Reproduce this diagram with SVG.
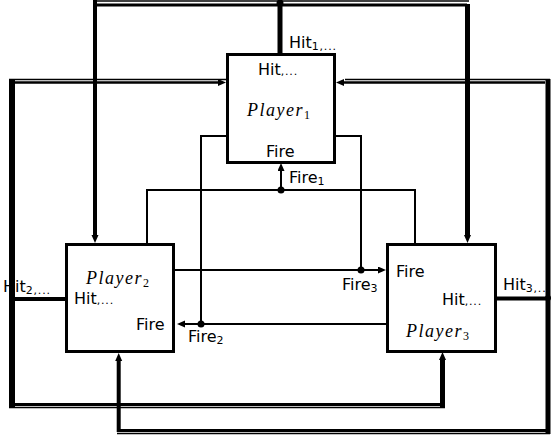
<svg xmlns="http://www.w3.org/2000/svg" width="551" height="437" viewBox="0 0 551 437">
<style>
.box{fill:#fff;stroke:#000;stroke-width:3}
.t{font-family:"DejaVu Sans",sans-serif;font-size:16px;fill:#000}
.s{font-size:11px;letter-spacing:0.8px}
.p{font-family:"Liberation Serif",serif;font-style:italic;font-size:18px;letter-spacing:1.5px;fill:#000}
.ps{font-style:normal;font-size:12px;letter-spacing:0}
.f{fill:none;stroke:#000;stroke-width:2}
.k{fill:none;stroke:#000;stroke-width:3}
.n{fill:none;stroke:#000;stroke-width:1.3}
.v{fill:none;stroke:#000;stroke-width:5}
.d{fill:#000}
</style>
<defs>
<marker id="a" markerUnits="userSpaceOnUse" markerWidth="9" markerHeight="8" refX="0" refY="3.5" orient="auto">
<path d="M0,0 L8,3.5 L0,7 z" fill="#000"/>
</marker>
</defs>
<rect width="551" height="437" fill="#fff"/>
<g id="connectors">
<path class="v" d="M280,54 V3"/>
<path class="n" d="M93,1 H469"/>
<path class="k" d="M95,5 H467"/>
<path class="v" style="stroke-width:4" d="M95,0 V235" marker-end="url(#a)"/>
<path class="v" d="M467.5,4 V235" marker-end="url(#a)"/>
<circle class="d" cx="280" cy="3" r="3.5"/>
<path class="v" style="stroke-width:4" d="M65,299 H12"/>
<circle class="d" cx="12" cy="298" r="3"/>
<path class="v" style="stroke-width:6" d="M12,79 V408"/>
<path class="n" d="M9,79.5 H226"/>
<path class="k" style="stroke-width:2.5" d="M15,82.5 H218" marker-end="url(#a)"/>
<path class="k" d="M12,404.5 H442.5"/>
<path class="n" d="M9,407.5 H445"/>
<path class="v" d="M442.5,408 V360" marker-end="url(#a)"/>
<path class="v" style="stroke-width:4" d="M497,298.5 H548"/>
<circle class="d" cx="548" cy="298" r="3"/>
<path class="v" d="M548,79 V434"/>
<path class="n" d="M345,79.5 H550"/>
<path class="k" style="stroke-width:2.5" d="M545,82.5 H344" marker-end="url(#a)"/>
<path class="k" d="M548,430.5 H118.5"/>
<path class="n" d="M550,433.5 H117"/>
<path class="v" style="stroke-width:4" d="M118.7,432 V361" marker-end="url(#a)"/>
<path class="f" d="M147,244 V190 H415 V244"/>
<path class="f" d="M281,190 V171" marker-end="url(#a)"/>
<circle class="d" cx="281" cy="190" r="3.5"/>
<path class="f" d="M175,270 H378" marker-end="url(#a)"/>
<path class="f" d="M361,270 V136 H335"/>
<circle class="d" cx="361" cy="270" r="3.5"/>
<path class="f" d="M386,324 H185" marker-end="url(#a)"/>
<path class="f" d="M201,324 V136 H227"/>
<circle class="d" cx="201" cy="324" r="3.5"/>
</g>
<g id="player1">
<rect class="box" x="227.5" y="54.5" width="107" height="108"/>
<text class="t" x="258" y="75">Hit<tspan class="s">,...</tspan></text>
<text class="p" x="247" y="116">Player<tspan class="ps" dy="3">1</tspan></text>
<text class="t" x="266" y="157">Fire</text>
</g>
<g id="player2">
<rect class="box" x="66.5" y="244.5" width="107" height="107"/>
<text class="p" x="86" y="284">Player<tspan class="ps" dy="3">2</tspan></text>
<text class="t" x="74" y="304">Hit<tspan class="s">,...</tspan></text>
<text class="t" x="136" y="330">Fire</text>
</g>
<g id="player3">
<rect class="box" x="387.5" y="244.5" width="108" height="107"/>
<text class="t" x="396" y="277">Fire</text>
<text class="t" x="442" y="305">Hit<tspan class="s">,...</tspan></text>
<text class="p" x="406" y="337">Player<tspan class="ps" dy="3">3</tspan></text>
</g>
<g id="labels">
<text class="t" x="289" y="48">Hit<tspan class="s" dy="2">1</tspan><tspan class="s">,...</tspan></text>
<text class="t" x="3" y="292">Hit<tspan class="s" dy="2">2</tspan><tspan class="s">,...</tspan></text>
<text class="t" x="503" y="290">Hit<tspan class="s" dy="2">3</tspan><tspan class="s">,..</tspan></text>
<text class="t" x="289" y="183">Fire<tspan class="s" dy="2">1</tspan></text>
<text class="t" x="342" y="290">Fire<tspan class="s" dy="2">3</tspan></text>
<text class="t" x="188" y="342">Fire<tspan class="s" dy="2">2</tspan></text>
</g>
</svg>
